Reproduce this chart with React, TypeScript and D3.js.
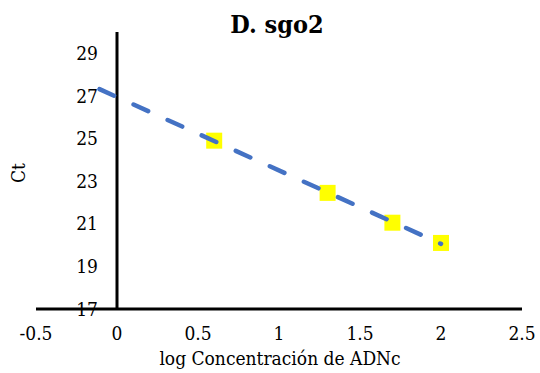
import React from "react";
import * as d3 from "d3";

const xValues = [0.6, 1.3, 1.7, 2.0];
const ctValues = [24.9, 22.45, 21.05, 20.1];
const xTicks = [-0.5, 0, 0.5, 1, 1.5, 2, 2.5];
const yTicks = [17, 19, 21, 23, 25, 27, 29];
const title = "D. sgo2";
const xTitle = "log Concentración de ADNc";
const yTitle = "Ct";
const trendStart = -0.108;

const W = 540;
const H = 373;
const FONT = '"DejaVu Serif Condensed", "DejaVu Serif", serif';

export default function App() {
  const x = d3.scaleLinear().domain([-0.5, 2.5]).range([36, 522]);
  const y = d3.scaleLinear().domain([17, 30]).range([309, 32]);

  const mx = d3.mean(xValues) as number;
  const my = d3.mean(ctValues) as number;
  const sxy = d3.sum(xValues.map((v, i) => (v - mx) * (ctValues[i] - my)));
  const sxx = d3.sum(xValues.map((v) => (v - mx) * (v - mx)));
  const slope = sxy / sxx;
  const icpt = my - slope * mx;
  const xEnd = d3.max(xValues) as number;
  const trend = d3
    .line<number>()
    .x((d) => x(d))
    .y((d) => y(icpt + slope * d))([trendStart, xEnd]);

  const sq = 16;
  const ts: React.CSSProperties = { fontFamily: FONT, fontStretch: "condensed" };

  return (
    <svg
      width={W}
      height={H}
      style={{ position: "absolute", left: 0, top: 0, background: "#fff", fontFamily: FONT }}
    >
      <rect width={W} height={H} fill="#fff" />
      <text x={277} y={33} textAnchor="middle" fontSize={25} fontWeight="bold" fill="#000" style={ts}>
        {title}
      </text>
      {yTicks.map((t) => (
        <text key={t} x={98} y={y(t)} dy="0.35em" textAnchor="end" fontSize={19} fill="#000" style={ts}>
          {t}
        </text>
      ))}
      {xTicks.map((t) => (
        <text key={t} x={x(t)} y={340} textAnchor="middle" fontSize={19} fill="#000" style={ts}>
          {t}
        </text>
      ))}
      <text x={280} y={365} textAnchor="middle" fontSize={19} fill="#000" style={ts}>
        {xTitle}
      </text>
      <text
        transform={`translate(25, 173) rotate(-90)`}
        textAnchor="middle"
        fontSize={19}
        fill="#000"
        style={ts}
      >
        {yTitle}
      </text>
      <line x1={x(0)} x2={x(0)} y1={y(30)} y2={y(17)} stroke="#000" strokeWidth={3} />
      <line x1={x(-0.5)} x2={x(2.5)} y1={y(17)} y2={y(17)} stroke="#000" strokeWidth={3} />
      {xValues.map((v, i) => (
        <rect
          key={i}
          x={x(v) - sq / 2}
          y={y(ctValues[i]) - sq / 2}
          width={sq}
          height={sq}
          fill="#FFFF00"
        />
      ))}
      <path
        d={trend ?? ""}
        fill="none"
        stroke="#4472C4"
        strokeWidth={4.5}
        strokeLinecap="round"
        strokeDasharray="16 21.4"
      />
    </svg>
  );
}
